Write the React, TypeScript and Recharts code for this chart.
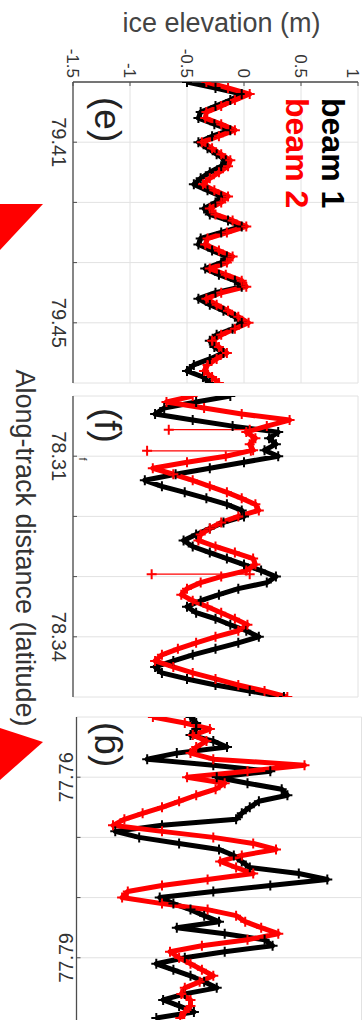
import React from "react";
import { LineChart, Line, XAxis, YAxis, CartesianGrid } from "recharts";

// elevation axis (m)
const elevTicks = [-1.5, -1, -0.5, 0, 0.5, 1];
const elevTickLabels = ["-1.5", "-1", "-0.5", "0", "0.5", "1"];

// along-track grid lines, only first and last carry a latitude label
const trackTicks = [1, 2, 3, 4];
const eTrackLabels = ["79.41", "", "", "79.45"];
const fTrackLabels = ["78.31", "", "", "78.34"];
const gTrackLabels = ["77.76", "", "", "77.79"];

// elevations read every 0.1 grid interval along track
const eBeam1 = [
  -0.5, -0.25, -0.02, -0.12, -0.25, -0.38, -0.4, -0.26, -0.12, -0.28,
  -0.4, -0.32, -0.24, -0.16, -0.2, -0.3, -0.38, -0.44, -0.32, -0.2,
  -0.25, -0.35, -0.3, -0.14, -0.02, -0.2, -0.38, -0.4, -0.28, -0.15,
  -0.2, -0.34, -0.22, -0.08, -0.02, -0.25, -0.4, -0.3, -0.18, -0.08,
  -0.02, -0.1, -0.24, -0.3, -0.26, -0.18, -0.3, -0.44, -0.5, -0.36, -0.3,
];
const eBeam2 = [
  -0.33, -0.14, 0.05, -0.08, -0.2, -0.33, -0.34, -0.2, -0.08, -0.22,
  -0.37, -0.28, -0.2, -0.12, -0.14, -0.22, -0.3, -0.36, -0.26, -0.14,
  -0.2, -0.3, -0.25, -0.1, 0.02, -0.15, -0.32, -0.34, -0.22, -0.1,
  -0.15, -0.3, -0.16, -0.02, 0.02, -0.2, -0.33, -0.24, -0.14, -0.05,
  0.04, -0.08, -0.2, -0.28, -0.22, -0.15, -0.24, -0.32, -0.35, -0.28, -0.22,
];

const fBeam1 = [
  -0.12, -0.42, -0.7, -0.78, -0.45, -0.1, 0.3, 0.22, 0.28, 0.18,
  0.3, 0.0, -0.3, -0.6, -0.87, -0.72, -0.52, -0.33, -0.15, -0.02,
  0.0, -0.18, -0.3, -0.42, -0.53, -0.45, -0.3, -0.15, 0.0, 0.15,
  0.28, 0.2, -0.05, -0.22, -0.38, -0.5, -0.42, -0.25, -0.12, 0.02,
  0.13, -0.05, -0.25, -0.45, -0.62, -0.78, -0.72, -0.5, -0.25, 0.05, 0.35,
];
const fBeam2 = [
  -0.45, -0.68, -0.35, -0.02, 0.4, 0.2, 0.02, 0.1, 0.05, 0.08,
  -0.16, -0.5, -0.8, -0.62, -0.45, -0.3, -0.15, -0.02, 0.1, 0.13,
  -0.05, -0.2, -0.3, -0.38, -0.4, -0.25, -0.08, 0.08, 0.1, 0.02,
  -0.2, -0.38, -0.5, -0.55, -0.45, -0.32, -0.2, -0.08, 0.03, -0.05,
  -0.25, -0.42, -0.58, -0.72, -0.78, -0.62, -0.45, -0.25, -0.05, 0.18, 0.38,
];
// single outlier returns in beam 2 of panel (f)
const fBeam2Spikes = [
  { t: 0.56, base: 0.05, tip: -0.66 },
  { t: 0.91, base: 0.06, tip: -0.85 },
  { t: 2.96, base: 0.05, tip: -0.81 },
];

const gBeam1 = [
  -0.5, -0.45, -0.45, -0.5, -0.3, -0.18, -0.62, -0.88, -0.3, 0.2,
  -0.27, 0.0, 0.3, 0.35, 0.1, 0.02, -0.05, -0.1, -0.75, -1.16,
  -0.95, -0.6, -0.25, -0.12, -0.05, 0.02, 0.45, 0.7, 0.2, -0.3,
  -0.77, -0.65, -0.5, -0.38, -0.25, -0.62, -0.2, 0.15, 0.22, -0.2,
  -0.55, -0.8, -0.65, -0.5, -0.38, -0.27, -0.55, -0.74, -0.6, -0.47, -0.8,
];
const gBeam2 = [
  -0.83, -0.55, -0.33, -0.48, -0.36, -0.45, -0.5, -0.3, 0.5, 0.0,
  -0.53, -0.2, -0.28, -0.45, -0.6, -0.75, -0.92, -1.08, -1.18, -0.75,
  -0.3, 0.05, 0.25, -0.05, -0.24, -0.1, 0.05, -0.35, -0.75, -1.05,
  -1.1, -0.75, -0.35, -0.1, -0.02, 0.12, 0.27, 0.0, -0.4, -0.68,
  -0.6, -0.5, -0.4, -0.3, -0.42, -0.55, -0.58, -0.5, -0.5, -0.55, -0.59,
];

type Spike = { t: number; base: number; tip: number };

const FONT = "'Liberation Sans', Arial, Helvetica, sans-serif";
const AXIS = "#4d4d4d";
const RED = "#ff0000";

function PlusDot(props: any) {
  const { cx, cy, stroke } = props;
  if (cx == null || cy == null) return <g />;
  const s = 5;
  return (
    <path
      d={`M${cx - s},${cy}H${cx + s}M${cx},${cy - s}V${cy + s}`}
      stroke={stroke}
      strokeWidth={2}
      fill="none"
    />
  );
}

function TrackTick(props: any) {
  const { x, y, payload, labels, flipped } = props;
  const text = labels[trackTicks.indexOf(payload.value)] || "";
  if (!text) return <g />;
  return (
    <text
      x={x}
      y={y}
      textAnchor="middle"
      dominantBaseline="central"
      fontSize={20}
      fontFamily={FONT}
      fill="#333"
      transform={flipped ? `rotate(180 ${x} ${y})` : undefined}
    >
      {text}
    </text>
  );
}

type PanelProps = {
  beam1: number[];
  beam2: number[];
  spikes?: Spike[];
  labels: string[];
  left: number;
  top: number;
  plotWidth: number;
  domainMax: number;
  showElev: boolean;
  flipped: boolean;
  labelGap: number;
};

function Panel(p: PanelProps) {
  const rows = p.beam1.map((z, i) => ({ t: i / 10, b1: z, b2: p.beam2[i] }));
  const yAxisW = p.showElev ? 82 : 0;
  const padL = p.showElev ? 0 : 10;
  const height = 363;
  const xAxisH = 363 - (p.top + 285);
  const width = yAxisW + padL + p.plotWidth + 10;
  return (
    <div style={{ position: "absolute", left: p.showElev ? 0 : p.left - 10, top: 0 }}>
      <LineChart
        width={width}
        height={height}
        data={rows}
        margin={{ top: p.top, right: 10, bottom: 0, left: padL }}
      >
        <CartesianGrid stroke="#e2e2e2" strokeWidth={1} />
        <XAxis
          dataKey="t"
          type="number"
          domain={[0, p.domainMax]}
          ticks={trackTicks}
          allowDataOverflow
          height={xAxisH}
          axisLine={{ stroke: AXIS, strokeWidth: 1.3 }}
          tickLine={{ stroke: AXIS }}
          tickSize={-4}
          tickMargin={p.labelGap}
          tick={<TrackTick labels={p.labels} flipped={p.flipped} />}
        />
        <XAxis
          xAxisId="top"
          orientation="top"
          type="number"
          domain={[0, p.domainMax]}
          ticks={trackTicks}
          height={0}
          axisLine={{ stroke: AXIS, strokeWidth: 1.3 }}
          tickLine={{ stroke: AXIS }}
          tickSize={-4}
          tick={false}
        />
        <YAxis
          type="number"
          domain={[-1.5, 1]}
          ticks={elevTicks}
          allowDataOverflow
          width={yAxisW}
          axisLine={{ stroke: AXIS, strokeWidth: 1.3 }}
          tickLine={{ stroke: AXIS }}
          tickSize={-4}
          tickMargin={8}
          tick={
            p.showElev
              ? { fontSize: 17, fill: "#333", fontFamily: FONT }
              : false
          }
          tickFormatter={(v: number) => elevTickLabels[elevTicks.indexOf(v)]}
        />
        <YAxis
          yAxisId="right"
          orientation="right"
          type="number"
          domain={[-1.5, 1]}
          ticks={elevTicks}
          width={0}
          axisLine={{ stroke: AXIS, strokeWidth: 1.3 }}
          tickLine={{ stroke: AXIS }}
          tickSize={-4}
          tick={false}
        />
        <Line
          dataKey="b1"
          stroke="#000"
          strokeWidth={5}
          strokeLinejoin="round"
          dot={<PlusDot />}
          isAnimationActive={false}
        />
        <Line
          dataKey="b2"
          stroke={RED}
          strokeWidth={5}
          strokeLinejoin="round"
          dot={<PlusDot />}
          isAnimationActive={false}
        />
        {(p.spikes || []).map((s, i) => (
          <Line
            key={i}
            data={[
              { t: s.t, z: s.base },
              { t: s.t, z: s.tip },
            ]}
            dataKey="z"
            stroke={RED}
            strokeWidth={1.2}
            dot={<PlusDot />}
            isAnimationActive={false}
          />
        ))}
      </LineChart>
    </div>
  );
}

export default function App() {
  return (
    <div
      style={{
        position: "absolute",
        left: 0,
        top: 0,
        width: 363,
        height: 1020,
        overflow: "hidden",
        background: "#fff",
        fontFamily: FONT,
      }}
    >
      {/* figure is drawn landscape, then turned a quarter clockwise */}
      <div
        style={{
          position: "absolute",
          left: 0,
          top: 0,
          width: 1020,
          height: 363,
          transformOrigin: "0 0",
          transform: "translate(363px, 0) rotate(90deg)",
        }}
      >
        <Panel
          beam1={eBeam1}
          beam2={eBeam2}
          labels={eTrackLabels}
          left={82}
          top={5}
          plotWidth={301}
          domainMax={5}
          showElev
          flipped={false}
          labelGap={18.5}
        />
        <Panel
          beam1={fBeam1}
          beam2={fBeam2}
          spikes={fBeam2Spikes}
          labels={fTrackLabels}
          left={396}
          top={5}
          plotWidth={301}
          domainMax={5}
          showElev={false}
          flipped={false}
          labelGap={18.5}
        />
        <Panel
          beam1={gBeam1}
          beam2={gBeam2}
          labels={gTrackLabels}
          left={717}
          top={1.5}
          plotWidth={310}
          domainMax={5.15}
          showElev={false}
          flipped
          labelGap={14.5}
        />
        <svg
          width={1020}
          height={363}
          style={{ position: "absolute", left: 0, top: 0, pointerEvents: "none" }}
          fontFamily={FONT}
        >
          <text
            x={32}
            y={141.5}
            textAnchor="middle"
            fontSize={27}
            fill="#444"
            transform="rotate(-90 32 141.5)"
          >
            ice elevation (m)
          </text>
          <text x={548} y={347} textAnchor="middle" fontSize={27} fill="#333">
            Along-track distance (latitude)
          </text>
          <text x={97} y={268} fontSize={37} fill="#222">
            (e)
          </text>
          <text x={408} y={268} fontSize={37} fill="#222">
            (f)
          </text>
          <text
            x={744.5}
            y={260.5}
            textAnchor="middle"
            dominantBaseline="central"
            fontSize={37}
            fill="#222"
            transform="rotate(180 744.5 260.5)"
          >
            (g)
          </text>
          <text x={459} y={284} fontSize={11} fill="#333" textAnchor="middle">
            f
          </text>
          <text x={98} y={41} fontSize={32} fontWeight="bold" fill="#000">
            beam 1
          </text>
          <text x={98} y={77} fontSize={32} fontWeight="bold" fill={RED}>
            beam 2
          </text>
          <polygon points="204,363 204,320 250,363" fill={RED} />
          <polygon points="728,363 742,320 780,363" fill={RED} />
        </svg>
      </div>
    </div>
  );
}
